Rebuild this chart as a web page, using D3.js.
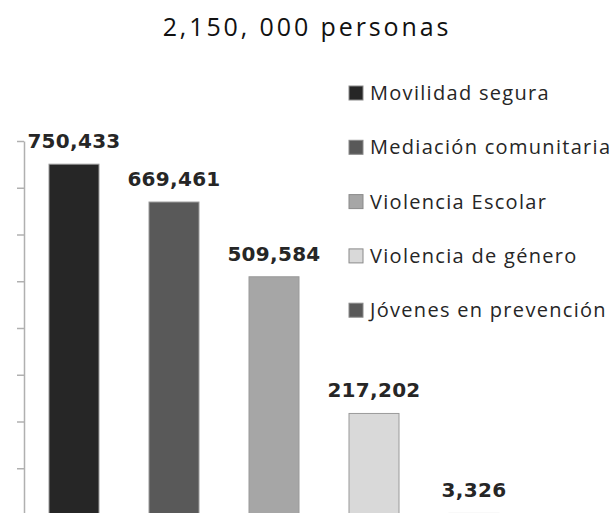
<!DOCTYPE html>
<html>
<head>
<meta charset="utf-8">
<script src="https://cdn.jsdelivr.net/npm/d3@7"></script>
<style>
  body { margin: 0; background: #fff; }
  svg { display: block; }
</style>
</head>
<body>
<div id="chart"></div>
<script>
// data
const categories = ["Movilidad segura", "Mediación comunitaria", "Violencia Escolar", "Violencia de género", "Jóvenes en prevención"];
const values = [750433, 669461, 509584, 217202, 3326];
const colors = ["#262626", "#595959", "#a6a6a6", "#d9d9d9", "#595959"];
const yTicks = [0, 100000, 200000, 300000, 400000, 500000, 600000, 700000, 800000];
const title = "2,150, 000 personas";

const width = 616, height = 513;

const svg = d3.select("#chart").append("svg")
    .attr("width", width)
    .attr("height", height);

const x = d3.scaleBand()
    .domain(categories)
    .range([24, 524])
    .paddingInner(0.5)
    .paddingOuter(0.25);

const y = d3.scaleLinear()
    .domain([0, 800000])
    .range([515, 141]);

// title
svg.append("text")
    .attr("x", 307)
    .attr("y", 36)
    .attr("text-anchor", "middle")
    .attr("font-family", "'Open Sans', sans-serif")
    .attr("font-size", 25)
    .attr("letter-spacing", 2.9)
    .attr("fill", "#111")
    .text(title);

// axis (no labels)
const axis = svg.append("g")
    .attr("transform", "translate(24,0)")
    .call(d3.axisLeft(y).tickValues(yTicks).tickFormat("").tickSize(7).tickSizeOuter(0));
axis.select(".domain").attr("stroke", "#b0b0b0").attr("stroke-width", 1.5);
axis.selectAll(".tick line").attr("stroke", "#b0b0b0").attr("stroke-width", 1.5);

// bars
svg.selectAll("rect.bar")
    .data(values)
    .enter()
    .append("rect")
    .attr("class", "bar")
    .attr("x", (d, i) => x(categories[i]))
    .attr("y", d => y(d))
    .attr("width", x.bandwidth())
    .attr("height", d => y(0) - y(d))
    .attr("fill", (d, i) => colors[i])
    .attr("stroke", "#9a9a9a")
    .attr("stroke-width", 1);

// value labels
svg.selectAll("text.val")
    .data(values)
    .enter()
    .append("text")
    .attr("class", "val")
    .attr("x", (d, i) => x(categories[i]) + x.bandwidth() / 2)
    .attr("y", d => y(d) - 16)
    .attr("text-anchor", "middle")
    .attr("font-family", "'DejaVu Sans', sans-serif")
    .attr("font-weight", "bold")
    .attr("font-size", 20)
    .attr("letter-spacing", 0.3)
    .attr("fill", "#262626")
    .text(d => d3.format(",")(d));

// legend
const legend = svg.selectAll("g.leg")
    .data(categories)
    .enter()
    .append("g")
    .attr("class", "leg")
    .attr("transform", (d, i) => "translate(349," + (93 + i * 54.3) + ")");

legend.append("rect")
    .attr("x", 0)
    .attr("y", -7)
    .attr("width", 14)
    .attr("height", 14)
    .attr("fill", (d, i) => colors[i])
    .attr("stroke", "#8a8a8a")
    .attr("stroke-width", 1);

legend.append("text")
    .attr("x", 21)
    .attr("y", 7)
    .attr("font-family", "'Open Sans', sans-serif")
    .attr("font-size", 20)
    .attr("letter-spacing", 1.3)
    .attr("fill", "#262626")
    .text(d => d);
</script>
</body>
</html>
